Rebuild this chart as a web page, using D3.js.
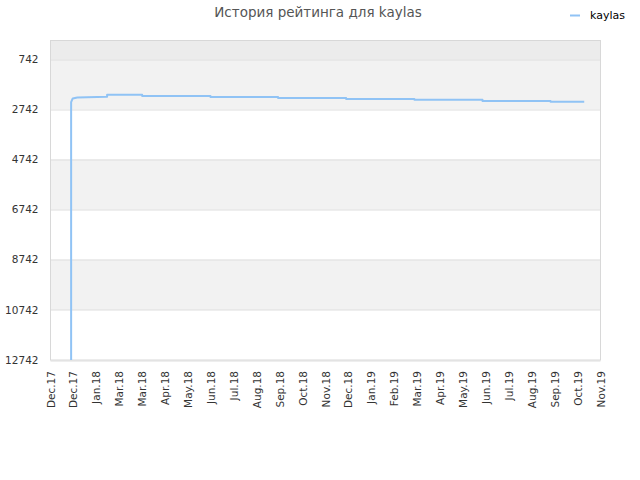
<!DOCTYPE html>
<html>
<head>
<meta charset="utf-8">
<script src="https://cdn.jsdelivr.net/npm/d3@7"></script>
<style>
  body { margin: 0; background: #fff; }
  svg { font-family: "DejaVu Sans", sans-serif; }
</style>
</head>
<body>
<div id="chart"></div>
<script>
// tick labels along the time axis (evenly spaced)
const xTickLabels = ["Dec.17", "Dec.17", "Jan.18", "Mar.18", "Mar.18", "Apr.18", "May.18", "Jun.18",
    "Jul.18", "Aug.18", "Sep.18", "Oct.18", "Nov.18", "Dec.18", "Jan.19", "Feb.19", "Mar.19",
    "Apr.19", "May.19", "Jun.19", "Jul.19", "Aug.19", "Sep.19", "Oct.19", "Nov.19"];
const yTicks = [742, 2742, 4742, 6742, 8742, 10742, 12742];

// rating history: position in tick units, rank value
const seriesX = [0.90, 0.90, 0.90, 0.90, 0.90, 0.90, 0.90, 0.97, 1.17, 2.47, 2.47, 4.00, 4.00,
    6.98, 6.98, 9.93, 9.93, 12.90, 12.90, 15.88, 15.88, 18.85, 18.85, 21.82, 21.82, 23.29];
const seriesY = [12742, 10400, 9400, 5800, 3400, 3100, 2460, 2310, 2270, 2245, 2165, 2165, 2215,
    2215, 2255, 2255, 2295, 2295, 2335, 2335, 2365, 2365, 2415, 2415, 2445, 2445];
const seriesName = "kaylas";

const W = 640, H = 480;
const margin = {top: 40.5, right: 40, bottom: 120, left: 50.5};
const width = 550, height = 319.5;

const svg = d3.select("#chart").append("svg").attr("width", W).attr("height", H);

const x = d3.scaleLinear().domain([0, xTickLabels.length - 1]).range([0, width]);
const y = d3.scaleLinear().domain([0, 12742]).range([0, height]);

const g = svg.append("g").attr("transform", `translate(${margin.left},${margin.top})`);

// alternating bands
const bandEdges = [0].concat(yTicks);
for (let i = 0; i < bandEdges.length - 1; i++) {
    let fill = null;
    if (i === 0) fill = "#ececec";
    else if (i % 2 === 1) fill = "#f2f2f2";
    if (fill) {
        g.append("rect").attr("x", 0).attr("width", width)
            .attr("y", y(bandEdges[i])).attr("height", y(bandEdges[i + 1]) - y(bandEdges[i]))
            .attr("fill", fill);
    }
}

// grid lines
g.selectAll(".grid").data(yTicks).join("line")
    .attr("x1", 0).attr("x2", width)
    .attr("y1", d => Math.round(y(d)) + 0.5).attr("y2", d => Math.round(y(d)) + 0.5)
    .attr("stroke", "#dddddd").attr("stroke-width", 1);

// frame
g.append("rect").attr("x", 0).attr("y", 0).attr("width", width).attr("height", height)
    .attr("fill", "none").attr("stroke", "#d8d8d8").attr("stroke-width", 1);

// y labels
g.selectAll(".ylab").data(yTicks).join("text")
    .attr("x", -12).attr("y", d => y(d)).attr("dy", "0.35em")
    .attr("text-anchor", "end").attr("font-size", 10.5).attr("fill", "#333")
    .text(d => d);

// x labels (rotated)
g.selectAll(".xlab").data(xTickLabels).join("text")
    .attr("transform", (d, i) => `translate(${x(i) + 4},${height + 11}) rotate(-90)`)
    .attr("text-anchor", "end").attr("font-size", 10.5).attr("fill", "#333")
    .text(d => d);

// line
const pts = seriesX.map((v, i) => [v, seriesY[i]]);
g.append("path").datum(pts)
    .attr("d", d3.line().x(d => x(d[0])).y(d => y(d[1])))
    .attr("fill", "none").attr("stroke", "#90c3f5").attr("stroke-width", 2)
    .attr("stroke-linejoin", "round");

// title
svg.append("text").attr("x", 318).attr("y", 17).attr("text-anchor", "middle")
    .attr("font-size", 13.5).attr("fill", "#555")
    .text("История рейтинга для " + seriesName);

// legend
svg.append("line").attr("x1", 570).attr("x2", 580).attr("y1", 15.5).attr("y2", 15.5)
    .attr("stroke", "#90c3f5").attr("stroke-width", 2);
svg.append("text").attr("x", 590).attr("y", 18.5).attr("font-size", 11).attr("fill", "#000")
    .text(seriesName);
</script>
</body>
</html>
